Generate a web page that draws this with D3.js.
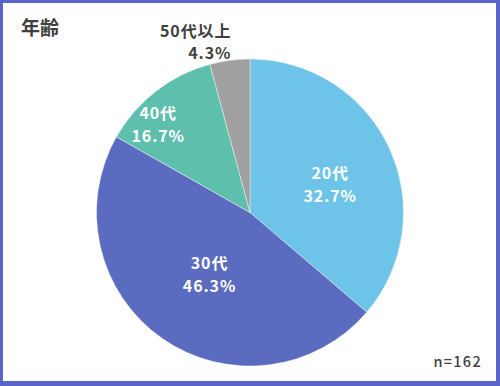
<!DOCTYPE html>
<html><head><meta charset="utf-8">
<script src="https://cdn.jsdelivr.net/npm/d3@7"></script>
<style>body{margin:0;background:#fff;}svg{display:block;}text{font-family:"Noto Sans CJK JP","Noto Sans",sans-serif;}</style>
</head><body>
<svg id="c" width="500" height="386"></svg>
<script>
const categories = ["20代", "30代", "40代", "50代以上"];
// slice sizes as drawn in the picture (share of the circle, %)
const sliceShares = [36.25, 46.95, 12.6, 4.2];
// percentages printed on the labels
const labelPercents = [32.7, 46.3, 16.7, 4.3];
const colors = ["#6ec4e8", "#5b6bc0", "#5fbfad", "#a0a0a0"];
const title = "年齢";
const note = "n=162";

const W = 500, H = 386;
const svg = d3.select("#c");
svg.append("rect").attr("width", W).attr("height", H).attr("fill", "#5a63c8");
svg.append("rect").attr("x", 3).attr("y", 3).attr("width", W - 7).attr("height", H - 8).attr("fill", "#fff");

const cx = 250, cy = 212.5, R = 153.5;
const pie = d3.pie().sort(null).value(d => d)(sliceShares);
const arc = d3.arc().innerRadius(0).outerRadius(R);
const g = svg.append("g").attr("transform", `translate(${cx},${cy})`);
g.selectAll("path").data(pie).join("path")
  .attr("d", arc).attr("fill", (d, i) => colors[i])
  .attr("stroke", "#fff").attr("stroke-width", 0.4);

// label layout: distance along slice's mid angle plus fine offsets
const labelDist = [85, 74, 127, 172];
const labelOff = [[3, 8], [2, 1], [-14, 12], [4, 0]];
const labelGap = [23, 23, 23, 22];
const labelInside = [true, true, true, false];
pie.forEach((d, i) => {
  const a = (d.startAngle + d.endAngle) / 2;
  const r = labelDist[i];
  const x = Math.sin(a) * r + labelOff[i][0];
  const y = -Math.cos(a) * r + labelOff[i][1];
  const t = g.append("text")
    .attr("font-size", 16).attr("font-weight", 700)
    .attr("letter-spacing", 0.9)
    .attr("fill", labelInside[i] ? "#ffffff" : "#404040")
    .attr("text-anchor", labelInside[i] ? "middle" : "end");
  t.append("tspan").attr("x", x).attr("y", y - labelGap[i] / 2 + 6).text(categories[i]);
  t.append("tspan").attr("x", x).attr("y", y + labelGap[i] / 2 + 6).text(labelPercents[i].toFixed(1) + "%");
});

svg.append("text").attr("x", 21).attr("y", 35).attr("font-size", 19).attr("font-weight", 700)
  .attr("fill", "#404040").text(title);
svg.append("text").attr("x", 482).attr("y", 367).attr("text-anchor", "end").attr("font-size", 14.5)
  .attr("font-weight", 500).attr("letter-spacing", 1.3).attr("fill", "#404040").text(note);
</script>
</body></html>
